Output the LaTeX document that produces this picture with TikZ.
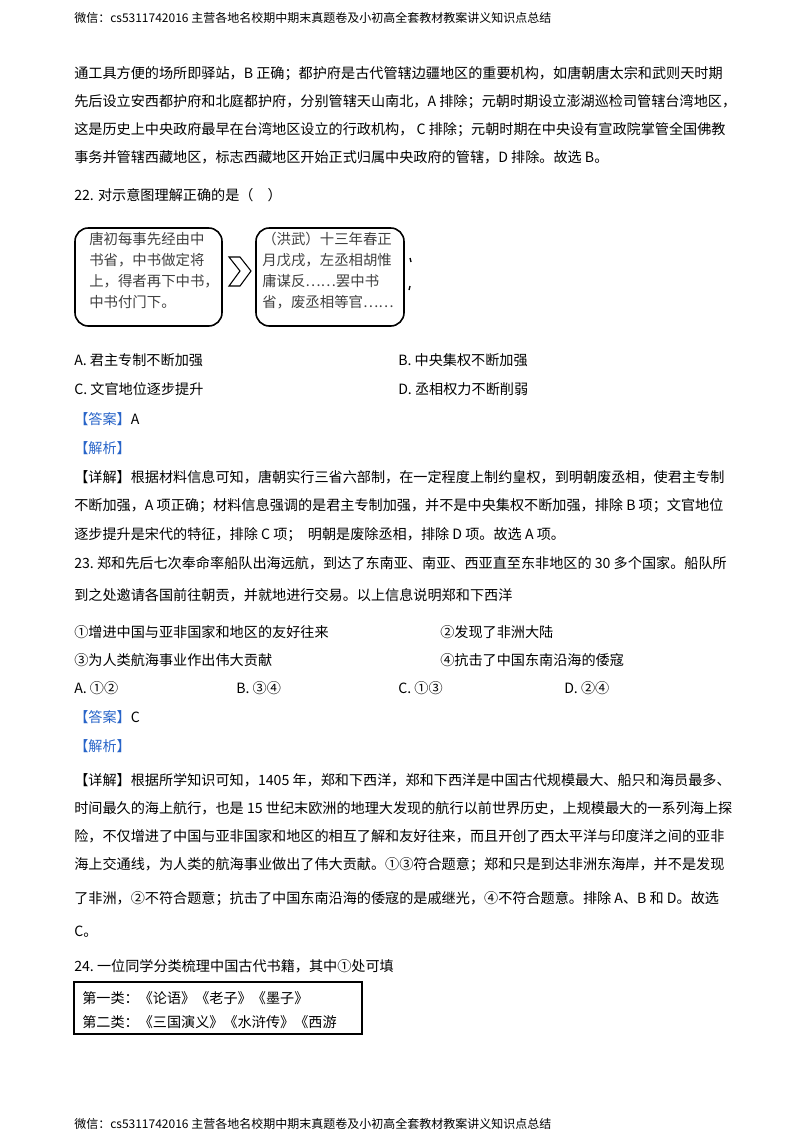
\documentclass[tikz,border=0pt]{standalone}
\usepackage{fontspec}
\setmainfont{Noto Sans CJK SC}
\newfontfamily\kai{Noto Sans CJK SC}
\begin{document}
\begin{tikzpicture}[x=0.75pt,y=-0.75pt,
  t/.style={anchor=base west,inner sep=0pt,font=\fontsize{10.6pt}{12pt}\selectfont},
  hd/.style={anchor=base west,inner sep=0pt,font=\fontsize{9pt}{11pt}\selectfont},
  bx/.style={draw,line width=1.2pt,rounded corners=10pt},
  bt/.style={anchor=north west,inner sep=0pt,align=left,font=\fontsize{10.8pt}{15.75pt}\selectfont\kai,text=black!75}]
\useasboundingbox (0,0) rectangle (800,1132);
\definecolor{ans}{RGB}{40,100,200}
\node[hd] (h1) at (74,22) {微信：cs5311742016\ 主营各地名校期中期末真题卷及小初高全套教材教案讲义知识点总结};
\node[hd] (h2) at (74,1128) {微信：cs5311742016\ 主营各地名校期中期末真题卷及小初高全套教材教案讲义知识点总结};
\node[t] (l1) at (74,78) {通工具方便的场所即驿站，B 正确；都护府是古代管辖边疆地区的重要机构，如唐朝唐太宗和武则天时期};
\node[t] (l2) at (74,106) {先后设立安西都护府和北庭都护府，分别管辖天山南北，A 排除；元朝时期设立澎湖巡检司管辖台湾地区，};
\node[t] (l3) at (74,134) {这是历史上中央政府最早在台湾地区设立的行政机构，\ C 排除；元朝时期在中央设有宣政院掌管全国佛教};
\node[t] (l4) at (74,162) {事务并管辖西藏地区，标志西藏地区开始正式归属中央政府的管辖，D 排除。故选 B。};
\node[t] (q22) at (74,200) {22. 对示意图理解正确的是（\quad ）};
\draw[bx] (75,228) rectangle (222,326);
\node[bt] (b1) at (89,232) {唐初每事先经由中\\书省，中书做定将\\上，得者再下中书，\\中书付门下。};
\draw[bx] (256,228) rectangle (404,326);
\node[bt] (b2) at (262,232) {（洪武）十三年春正\\月戊戌，左丞相胡惟\\庸谋反……罢中书\\省，废丞相等官……};
\draw[line width=0.8pt] (229,257) -- (240,257) -- (251,271) -- (240,286) -- (229,286) -- (240,271) -- cycle;
\draw[line width=1pt] (410,258) -- (411,262);
\draw[line width=1pt] (410,286) -- (409,290);
\node[t] (a) at (74,365) {A.\ 君主专制不断加强};
\node[t] (b) at (398,365) {B.\ 中央集权不断加强};
\node[t] (c) at (74,394) {C.\ 文官地位逐步提升};
\node[t] (d) at (398,394) {D.\ 丞相权力不断削弱};
\node[t] (an1) at (74,424) {\textcolor{ans}{【答案】}A};
\node[t] (jx1) at (74,453) {\textcolor{ans}{【解析】}};
\node[t] (x1) at (74,482) {【详解】根据材料信息可知，唐朝实行三省六部制，在一定程度上制约皇权，到明朝废丞相，使君主专制};
\node[t] (x2) at (74,510) {不断加强，A 项正确；材料信息强调的是君主专制加强，并不是中央集权不断加强，排除 B 项；文官地位};
\node[t] (x3) at (74,539) {逐步提升是宋代的特征，排除 C 项；\ \ 明朝是废除丞相，排除 D 项。故选 A 项。};
\node[t] (q23) at (74,568) {23.\ 郑和先后七次奉命率船队出海远航，到达了东南亚、南亚、西亚直至东非地区的 30 多个国家。船队所};
\node[t] (q23b) at (74,600) {到之处邀请各国前往朝贡，并就地进行交易。以上信息说明郑和下西洋};
\node[t] (o1) at (74,637) {①增进中国与亚非国家和地区的友好往来};
\node[t] (o2) at (440,637) {②发现了非洲大陆};
\node[t] (o3) at (74,665) {③为人类航海事业作出伟大贡献};
\node[t] (o4) at (440,665) {④抗击了中国东南沿海的倭寇};
\node[t] (ca) at (74,693) {A.\ ①②};
\node[t] (cb) at (236,693) {B.\ ③④};
\node[t] (cc) at (398,693) {C.\ ①③};
\node[t] (cd) at (564,693) {D.\ ②④};
\node[t] (an2) at (74,722) {\textcolor{ans}{【答案】}C};
\node[t] (jx2) at (74,751) {\textcolor{ans}{【解析】}};
\node[t] (y1) at (74,785) {【详解】根据所学知识可知，1405 年，郑和下西洋，郑和下西洋是中国古代规模最大、船只和海员最多、};
\node[t] (y2) at (74,813) {时间最久的海上航行，也是 15 世纪末欧洲的地理大发现的航行以前世界历史，上规模最大的一系列海上探};
\node[t] (y3) at (74,841) {险，不仅增进了中国与亚非国家和地区的相互了解和友好往来，而且开创了西太平洋与印度洋之间的亚非};
\node[t] (y4) at (74,869) {海上交通线，为人类的航海事业做出了伟大贡献。①③符合题意；郑和只是到达非洲东海岸，并不是发现};
\node[t] (y5) at (74,903) {了非洲，②不符合题意；抗击了中国东南沿海的倭寇的是戚继光，④不符合题意。排除 A、B 和 D。故选};
\node[t] (y6) at (74,936) {C。};
\node[t] (q24) at (74,971) {24.\ 一位同学分类梳理中国古代书籍，其中①处可填};
\draw[line width=0.8pt] (74,982) rectangle (362,1034);
\node[t] (r1) at (82,1003) {第一类：《论语》《老子》《墨子》};
\node[t] (r2) at (82,1027) {第二类：《三国演义》《水浒传》《西游};
\end{tikzpicture}
\end{document}
